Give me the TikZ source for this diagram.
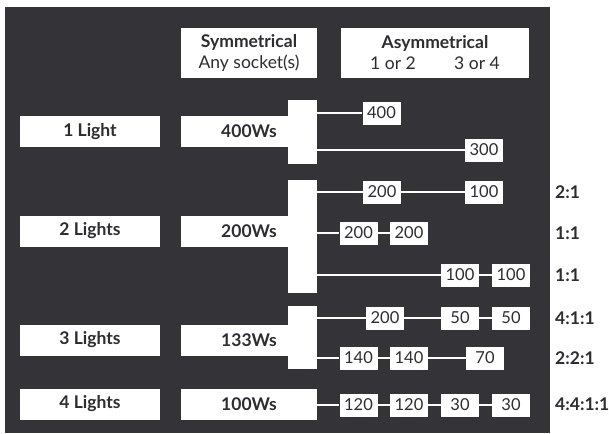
\documentclass[tikz,border=0pt]{standalone}
\usepackage{fontspec}
\setmainfont{Lato}
\definecolor{bg}{RGB}{52,51,56}
\definecolor{ink}{RGB}{45,44,48}
\begin{document}
\begin{tikzpicture}[x=1pt,y=-1pt,
  box/.style={fill=white, inner sep=0pt, text=ink, anchor=center},
  lab/.style={box, minimum width=140pt, minimum height=31pt, font=\fontsize{17.5}{19}\selectfont\bfseries},
  ws/.style={box, minimum width=136pt, minimum height=31pt, font=\fontsize{17.5}{19}\selectfont\bfseries},
  hdr/.style={box, minimum height=50pt, align=center, font=\fontsize{17.5}{21}\selectfont},
  bar/.style={fill=white, inner sep=0pt, minimum width=29pt},
  val/.style={box, minimum width=38pt, minimum height=23pt, font=\fontsize{16.5}{16.5}\selectfont},
  ratio/.style={anchor=west, inner sep=0pt, text=ink, font=\fontsize{17.5}{19}\selectfont\bfseries},
  wire/.style={draw=gray!55, double=white, line width=0.4pt, double distance=1.3pt}]
\fill[white] (0,0) rectangle (609,433);
\fill[bg] (4.5,7) rectangle (550,433);
\useasboundingbox (0,0) rectangle (609,433);

% headers
\node[hdr, minimum width=136pt] (sym) at (249,53) {\textbf{Symmetrical}\\Any socket(s)};
\node[hdr, minimum width=188pt] (asym) at (435,53) {\textbf{Asymmetrical}\\\makebox[84pt]{1 or 2}\makebox[84pt]{3 or 4}};

% 1 light
\node[lab] (l1) at (90,131.5) {1 Light};
\node[bar, minimum height=64pt] (b1) at (302.5,132) {};
\node[ws] (w1) at (249,131.5) {400Ws};
\node[val] (v1a) at (381.5,113) {400};
\node[val] (v1b) at (484,150) {300};
\draw[wire] (b1.east |- v1a.west) -- (v1a.west);
\draw[wire] (b1.east |- v1b.west) -- (v1b.west);

% 2 lights
\node[lab] (l2) at (90,231) {2 Lights};
\node[bar, minimum height=113pt] (b2) at (302.5,236.5) {};
\node[ws] (w2) at (249,231) {200Ws};
\node[val] (v2a) at (382,192) {200};
\node[val] (v2b) at (484,192) {100};
\node[val] (v2c) at (358.5,233) {200};
\node[val] (v2d) at (409,233) {200};
\node[val] (v2e) at (460,275) {100};
\node[val] (v2f) at (511,275) {100};
\draw[wire] (b2.east |- v2a.west) -- (v2a.west);
\draw[wire] (v2a) -- (v2b);
\draw[wire] (b2.east |- v2c.west) -- (v2c.west);
\draw[wire] (v2c) -- (v2d);
\draw[wire] (b2.east |- v2e.west) -- (v2e.west);
\draw[wire] (v2e) -- (v2f);
\node[ratio] (r2a) at (555,192) {2:1};
\node[ratio] (r2b) at (555,233) {1:1};
\node[ratio] (r2c) at (555,275) {1:1};

% 3 lights
\node[lab] (l3) at (90,340) {3 Lights};
\node[bar, minimum height=63pt] (b3) at (302.5,337.5) {};
\node[ws] (w3) at (249,340) {133Ws};
\node[val] (v3a) at (385,318) {200};
\node[val] (v3b) at (460,318) {50};
\node[val] (v3c) at (511,318) {50};
\node[val] (v3d) at (358.5,358) {140};
\node[val] (v3e) at (409,358) {140};
\node[val] (v3f) at (485,358) {70};
\draw[wire] (b3.east |- v3a.west) -- (v3a.west);
\draw[wire] (v3a) -- (v3b);
\draw[wire] (v3b) -- (v3c);
\draw[wire] (b3.east |- v3d.west) -- (v3d.west);
\draw[wire] (v3d) -- (v3e);
\draw[wire] (v3e) -- (v3f);
\node[ratio] (r3a) at (555,318) {4:1:1};
\node[ratio] (r3b) at (555,358) {2:2:1};

% 4 lights
\node[lab] (l4) at (90,404) {4 Lights};
\node[ws] (w4) at (249,404) {100Ws};
\node[val] (v4a) at (358.5,405) {120};
\node[val] (v4b) at (409,405) {120};
\node[val] (v4c) at (460,405) {30};
\node[val] (v4d) at (511,405) {30};
\draw[wire] (w4.east |- v4a.west) -- (v4a.west);
\draw[wire] (v4a) -- (v4b);
\draw[wire] (v4b) -- (v4c);
\draw[wire] (v4c) -- (v4d);
\node[ratio] (r4) at (555,404) {4:4:1:1};
\end{tikzpicture}
\end{document}
